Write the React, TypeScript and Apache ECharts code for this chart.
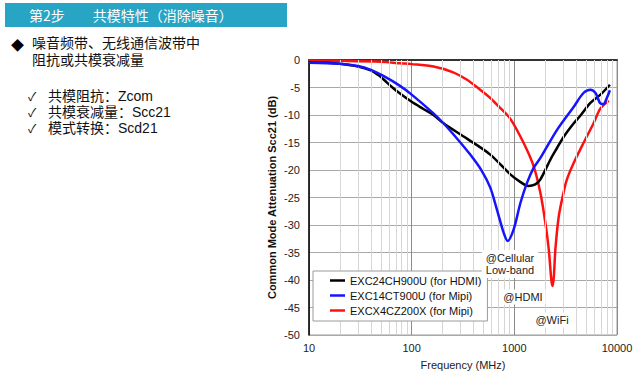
import React, { useEffect, useRef } from "react";
import * as echarts from "echarts";

// Frequencies (MHz) and attenuation (dB)
const blackFreq = [10, 15, 20, 30, 40, 47, 53, 65, 77, 100, 130, 163, 204, 346, 583, 914, 1150, 1371, 1600, 1795, 2245, 2606, 3040, 3793, 4406, 5508, 6900, 8530];
const blackDb = [-0.4, -0.5, -0.7, -1.2, -1.9, -2.7, -3.5, -5.0, -6.1, -7.6, -8.9, -10.0, -11.5, -14.3, -17.2, -20.8, -22.2, -22.9, -22.6, -21.7, -18.1, -16.0, -13.9, -11.5, -10.1, -7.8, -6.3, -4.5];

const blueFreq = [10, 20, 30, 40, 53, 77, 100, 163, 204, 280, 372, 480, 583, 677, 787, 861, 985, 1146, 1331, 1541, 1795, 2606, 3793, 4713, 5508, 6180, 6820, 7380, 7960, 8530];
const blueDb = [-0.5, -0.7, -1.1, -1.8, -2.9, -4.7, -6.3, -9.7, -11.5, -14.4, -17.2, -20.1, -23.2, -27.2, -31.4, -32.9, -30.8, -26.0, -22.3, -19.6, -17.8, -12.7, -8.5, -6.0, -5.4, -6.0, -7.8, -8.0, -6.9, -5.5];

const redFreq = [10, 20, 50, 77, 100, 163, 250, 346, 450, 583, 700, 914, 1233, 1541, 1795, 2005, 2163, 2290, 2350, 2420, 2512, 2710, 3040, 3254, 3793, 4713, 5913, 6900, 8318];
const redDb = [-0.1, -0.15, -0.3, -0.6, -0.75, -1.2, -2.2, -3.6, -5.2, -6.9, -8.4, -10.7, -15.1, -19.3, -24.2, -29.6, -34.4, -39.9, -41.1, -39.6, -34.4, -28.4, -23.8, -21.7, -18.7, -15.1, -11.5, -8.8, -7.4];

const seriesNames = ["EXC24CH900U (for HDMI)", "EXC14CT900U (for Mipi)", "EXCX4CZ200X (for Mipi)"];
const minorGridFreq = [20, 30, 40, 50, 60, 70, 80, 90, 200, 300, 400, 500, 600, 700, 800, 900, 2000, 3000, 4000, 5000, 6000, 7000, 8000, 9000];
const annotations = ["@Cellular\nLow-band", "@HDMI", "@WiFi"];
const headerText = "第2步　　共模特性（消除噪音）";
const bulletLines = ["噪音频带、无线通信波带中", "阻抗或共模衰减量"];
const checkItems = ["共模阻抗：Zcom", "共模衰减量：Scc21", "模式转换：Scd21"];

const zip = (xs: number[], ys: number[]) => xs.map((x, i) => [x, ys[i]]);

const CJK = "'Noto Sans CJK SC', 'Noto Sans', sans-serif";
const LAT = "'Liberation Sans', Arial, sans-serif";
const BODY = "'Liberation Sans', 'Noto Sans CJK SC', sans-serif";

export default function App() {
  const ref = useRef<HTMLDivElement>(null);
  useEffect(() => {
    document.body.style.margin = "0";
    const chart = echarts.init(ref.current!, null, { renderer: "svg" });
    const lineSeries = (name: string, data: number[][], color: string, z: number) => ({
      name,
      type: "line",
      data,
      smooth: 0.3,
      showSymbol: false,
      symbol: "none",
      lineStyle: { color, width: 2.5 },
      itemStyle: { color },
      z,
    });
    chart.setOption({
      animation: false,
      grid: { left: 309, top: 60, right: 19, bottom: 39, show: true, borderColor: "#9a9a9a", borderWidth: 1 },
      xAxis: {
        type: "log",
        logBase: 10,
        min: 10,
        max: 10000,
        name: "Frequency (MHz)",
        nameLocation: "middle",
        nameGap: 24,
        nameTextStyle: { fontFamily: LAT, fontSize: 11, color: "#222" },
        axisLine: { show: true, lineStyle: { color: "#333", width: 2 } },
        axisTick: { show: false },
        axisLabel: { fontFamily: LAT, fontSize: 11, color: "#222", margin: 7, formatter: (v: number) => String(Math.round(v)) },
        splitLine: { show: true, lineStyle: { color: "#8c8c8c", width: 1 } },
      },
      yAxis: {
        type: "value",
        min: -50,
        max: 0,
        interval: 5,
        name: "Common Mode Attenuation Scc21 (dB)",
        nameLocation: "middle",
        nameGap: 32,
        nameTextStyle: { fontFamily: LAT, fontSize: 11, fontWeight: "bold", color: "#111" },
        axisLine: { show: true, lineStyle: { color: "#000", width: 1.5 } },
        axisTick: { show: false },
        axisLabel: { fontFamily: LAT, fontSize: 11, color: "#222", margin: 9 },
        splitLine: { show: true, lineStyle: { color: "#a8a8a8", width: 1 } },
      },
      legend: {
        data: seriesNames,
        orient: "vertical",
        left: 313,
        top: 271,
        icon: "rect",
        itemWidth: 15,
        itemHeight: 2.5,
        itemGap: 4,
        padding: [4, 6, 5, 17],
        backgroundColor: "#fff",
        borderColor: "#9a9a9a",
        borderWidth: 1,
        textStyle: { fontFamily: LAT, fontSize: 11, color: "#111" },
        z: 10,
      },
      series: [
        {
          name: "minor-grid",
          type: "line",
          data: [],
          silent: true,
          z: 1,
          markLine: {
            silent: true,
            symbol: ["none", "none"],
            label: { show: false },
            lineStyle: { color: "#d6d6d6", type: "solid", width: 1 },
            data: minorGridFreq.map((f) => ({ xAxis: f })),
          },
        },
        lineSeries(seriesNames[0], zip(blackFreq, blackDb), "#000000", 4),
        lineSeries(seriesNames[1], zip(blueFreq, blueDb), "#1414ff", 5),
        lineSeries(seriesNames[2], zip(redFreq, redDb), "#ff1010", 3),
      ],
      graphic: [
        { type: "rect", shape: { x: 5, y: 3, width: 282, height: 24 }, style: { fill: "#28a5c5" } },
        { type: "text", x: 29, y: 15, style: { text: headerText, fill: "#fff", font: `14px ${CJK}`, verticalAlign: "middle", lineHeight: 16 } },
        { type: "text", x: 11, y: 44, style: { text: "◆", fill: "#000", font: `13px ${CJK}`, verticalAlign: "middle", lineHeight: 14 } },
        { type: "text", x: 32, y: 43, style: { text: bulletLines[0], fill: "#111", font: `14px ${BODY}`, verticalAlign: "middle", lineHeight: 15 } },
        { type: "text", x: 32, y: 60, style: { text: bulletLines[1], fill: "#111", font: `14px ${BODY}`, verticalAlign: "middle", lineHeight: 15 } },
        ...checkItems.flatMap((t, i) => [
          { type: "text", x: 28, y: 95.5 + i * 16, style: { text: "✓", fill: "#111", font: `12px ${CJK}`, verticalAlign: "middle", lineHeight: 14 } },
          { type: "text", x: 48, y: 95.5 + i * 16, style: { text: t, fill: "#111", font: `14px ${BODY}`, verticalAlign: "middle", lineHeight: 15 } },
        ]),
        { type: "text", x: 510, y: 264, z: 20, style: { text: annotations[0], fill: "#222", font: `11px ${LAT}`, align: "center", verticalAlign: "middle", lineHeight: 12, backgroundColor: "#fff", padding: [2, 4] } },
        { type: "text", x: 523, y: 297, z: 20, style: { text: annotations[1], fill: "#222", font: `11px ${LAT}`, align: "center", verticalAlign: "middle", backgroundColor: "#fff", padding: [2, 3] } },
        { type: "text", x: 552, y: 320, z: 20, style: { text: annotations[2], fill: "#222", font: `11px ${LAT}`, align: "center", verticalAlign: "middle", backgroundColor: "#fff", padding: [2, 3] } },
      ],
    });
    return () => chart.dispose();
  }, []);
  return <div ref={ref} style={{ width: 636, height: 375 }} />;
}
